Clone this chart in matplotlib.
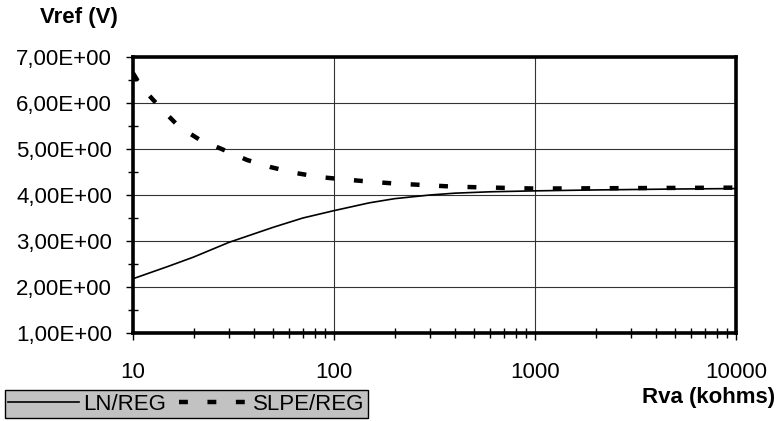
import numpy as np
import matplotlib.pyplot as plt
from matplotlib.ticker import FixedLocator, FuncFormatter, NullFormatter

plt.rcParams['font.family'] = ['Liberation Sans', 'DejaVu Sans']

# data
rva_ln = [10, 15, 20, 30, 50, 70, 100, 150, 200, 300, 400, 600, 1000, 2000, 5000, 10000]
vref_ln = [2.18, 2.45, 2.65, 2.97, 3.30, 3.50, 3.66, 3.83, 3.92, 4.00, 4.04, 4.07, 4.09, 4.11, 4.13, 4.14]

rva_slpe = [10, 11, 14, 17, 21.5, 29, 37, 48, 64, 85, 100, 150, 200, 400, 1000, 3000, 10000]
vref_slpe = [6.65, 6.35, 5.85, 5.48, 5.20, 4.96, 4.76, 4.61, 4.48, 4.39, 4.36, 4.29, 4.25, 4.18, 4.14, 4.15, 4.16]

y_ticks = [1, 2, 3, 4, 5, 6, 7]
x_ticks = [10, 100, 1000, 10000]

fig = plt.figure(figsize=(7.78, 4.21), dpi=100)
ax = fig.add_axes([133/778, 1-333/421, (736-133)/778, (333-57)/421])

l1, = ax.plot(rva_ln, vref_ln, color='black', lw=1.2, label='LN/REG', clip_on=False)
l2, = ax.plot(rva_slpe, vref_slpe, color='black', lw=3.2, dashes=(2, 4.4),
              label='SLPE/REG', solid_capstyle='butt', dash_capstyle='butt')

ax.set_xscale('log')
ax.set_xlim(10, 10000)
ax.set_ylim(1, 7)
ax.xaxis.set_major_locator(FixedLocator(x_ticks))
ax.xaxis.set_major_formatter(FuncFormatter(lambda v, p: f'{int(round(v))}'))
ax.xaxis.set_minor_locator(FixedLocator([m * d for d in [10, 100, 1000] for m in range(2, 10)]))
ax.xaxis.set_minor_formatter(NullFormatter())
ax.yaxis.set_major_locator(FixedLocator(y_ticks))
ax.yaxis.set_major_formatter(FuncFormatter(lambda v, p: f'{v:.2f}'.replace('.', ',') + 'E+00'))
ax.yaxis.set_minor_locator(FixedLocator([v + 0.5 for v in y_ticks[:-1]]))

ax.tick_params(axis='both', which='major', direction='out', length=5, width=1, labelsize=16)
ax.tick_params(axis='x', which='major', pad=16)
ax.tick_params(axis='y', which='major', pad=10)
ax.tick_params(axis='both', which='minor', direction='inout', length=7, width=1)

ax.grid(True, which='major', color='#333333', lw=0.8)
for s in ax.spines.values():
    s.set_linewidth(2.6)
    s.set_color('black')

fig.text(40/778, 1-17/421, 'Vref (V)', fontsize=16, fontweight='bold', va='center', ha='left')
fig.text(775/778, 1-398/421, 'Rva (kohms)', fontsize=16, fontweight='bold', va='center', ha='right')

leg = fig.legend(handles=[l1, l2], loc='lower left', bbox_to_anchor=(5/778, 3/421),
                 bbox_transform=fig.transFigure, ncol=2, fontsize=16, frameon=True,
                 fancybox=False, borderaxespad=0, borderpad=0.15, handlelength=3.2,
                 handletextpad=0.15, columnspacing=0.6, edgecolor='black', framealpha=1)
leg.get_frame().set_facecolor('#c2c2c2')
leg.get_frame().set_linewidth(1)

fig.savefig('out.png', dpi=100)
